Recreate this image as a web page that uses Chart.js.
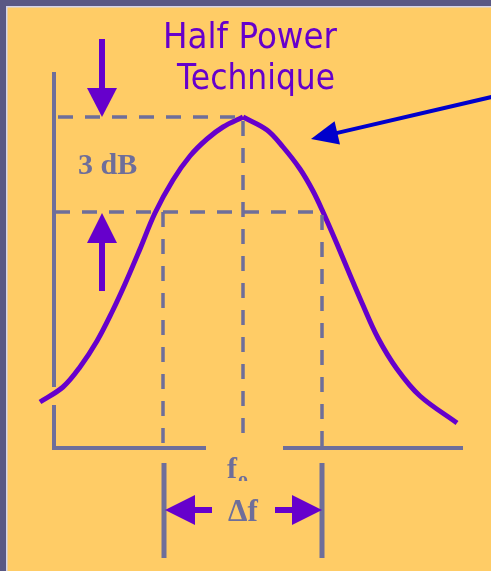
<!DOCTYPE html>
<html>
<head>
<meta charset="utf-8">
<script src="https://cdn.jsdelivr.net/npm/chart.js@4"></script>
<style>
  html, body { margin: 0; padding: 0; background: #ffcc66; }
  canvas { display: block; }
</style>
</head>
<body>
<canvas id="grafico" width="491" height="571"></canvas>
<script>
// Response curve: x = frequency, y = amplitude (arbitrary units)
const freq  = [-14, 9, 26, 43, 58, 71, 86, 101, 119, 136, 153, 169, 189, 213, 229, 246, 259, 269, 283, 296, 308, 324, 343, 366, 403];
const level = [46, 61, 81, 107, 136, 164, 199, 235, 268, 292, 309, 321, 331, 318, 301, 279, 257, 236, 204, 173, 145, 110, 79, 52, 25];

// Reference levels / frequencies
const peakLevel = 331;
const halfPowerLevel = 236;
const lowFreq = 109;
const centreFreq = 189;
const highFreq = 268;

// Axis extents (y axis is interrupted where the curve crosses, x axis where f0 sits)
const axisTop = 376;
const axisRight = 409;
const yAxisGap = [43, 61];
const xAxisGap = [152, 229];

// Labels
const titleLines = ['Half Power', 'Technique'];
const bandLabel = '3 dB';
const centreLabel = ['f', 'o'];
const widthLabel = 'Δf';

const purple = '#6600cc';
const slate = '#6e6e9a';
const blue = '#0000cc';
const orange = '#ffcc66';

const pts = (xs, ys) => xs.map((x, i) => ({ x, y: ys[i] }));

function guide(data, extra) {
  return Object.assign({
    data,
    showLine: true,
    pointRadius: 0,
    borderColor: slate,
    borderWidth: 4,
    borderJoinStyle: 'miter',
    fill: false,
    tension: 0
  }, extra || {});
}

const dash = { borderDash: [15, 12], borderWidth: 3.5 };

// the peak is a cusp, so each flank is its own smooth line
const curve = pts(freq, level);
const peakIdx = level.indexOf(Math.max(...level));
const flank = data => ({
  data,
  showLine: true,
  pointRadius: 0,
  borderColor: purple,
  borderWidth: 5,
  tension: 0.35,
  fill: false
});

const datasets = [
  // axes
  guide([{ x: 0, y: axisTop }, { x: 0, y: yAxisGap[1] }]),
  guide([{ x: 0, y: yAxisGap[0] }, { x: 0, y: 0 }, { x: xAxisGap[0], y: 0 }]),
  guide([{ x: xAxisGap[1], y: 0 }, { x: axisRight, y: 0 }]),
  // peak level + f0
  guide([{ x: 4, y: peakLevel }, { x: centreFreq, y: peakLevel }, { x: centreFreq, y: 10 }], dash),
  // half power level + band edges
  guide([{ x: 1, y: halfPowerLevel }, { x: highFreq, y: halfPowerLevel }, { x: highFreq, y: 0 }], dash),
  guide([{ x: lowFreq, y: halfPowerLevel }, { x: lowFreq, y: 0 }], dash),
  // band edge markers below the axis
  guide([{ x: lowFreq + 1, y: -15 }, { x: lowFreq + 1, y: -110 }], { borderWidth: 5 }),
  guide([{ x: highFreq, y: -15 }, { x: highFreq, y: -110 }], { borderWidth: 5 }),
  // the curve
  flank(curve.slice(0, peakIdx + 1)),
  flank(curve.slice(peakIdx))
];

const background = {
  id: 'background',
  beforeDraw(chart) {
    const ctx = chart.ctx;
    ctx.save();
    ctx.fillStyle = orange;
    ctx.fillRect(0, 0, chart.width, chart.height);
    ctx.fillStyle = '#5a5884';
    ctx.fillRect(0, 0, chart.width, 6);
    ctx.fillRect(0, 0, 6, chart.height);
    ctx.fillStyle = '#d4d4ea';
    ctx.fillRect(6, 6, chart.width, 1.5);
    ctx.fillRect(6, 6, 1.5, chart.height);
    ctx.restore();
  }
};

function drawArrow(ctx, tail, tip, headLen, headHalf, width, color) {
  const dx = tip.x - tail.x, dy = tip.y - tail.y;
  const len = Math.hypot(dx, dy);
  const ux = dx / len, uy = dy / len;
  const bx = tip.x - ux * headLen, by = tip.y - uy * headLen;
  ctx.strokeStyle = color;
  ctx.fillStyle = color;
  ctx.lineWidth = width;
  ctx.beginPath();
  ctx.moveTo(tail.x, tail.y);
  ctx.lineTo(bx + ux, by + uy);
  ctx.stroke();
  ctx.beginPath();
  ctx.moveTo(tip.x, tip.y);
  ctx.lineTo(bx - uy * headHalf, by + ux * headHalf);
  ctx.lineTo(bx + uy * headHalf, by - ux * headHalf);
  ctx.closePath();
  ctx.fill();
}

const annotations = {
  id: 'annotations',
  afterDatasetsDraw(chart) {
    const ctx = chart.ctx;
    const { x: sx, y: sy } = chart.scales;
    const p = (x, y) => ({ x: sx.getPixelForValue(x), y: sy.getPixelForValue(y) });
    ctx.save();

    // 3 dB arrows
    drawArrow(ctx, p(48, 409), p(48, peakLevel), 29, 15, 6, purple);
    drawArrow(ctx, p(48, 157), p(48, halfPowerLevel - 1), 30, 15, 6, purple);
    // bandwidth arrows
    drawArrow(ctx, p(158, -62), p(lowFreq + 2, -62), 30, 15, 6, purple);
    drawArrow(ctx, p(221, -62), p(highFreq, -62), 30, 15, 6, purple);
    // pointer to the curve
    drawArrow(ctx, p(442, 352), p(257, 309), 27, 12, 4, blue);

    // title
    ctx.fillStyle = purple;
    ctx.font = '36px "DejaVu Sans"';
    ctx.textAlign = 'center';
    ctx.textBaseline = 'alphabetic';
    const titlePos = [{ x: 196, y: 400, w: 174 }, { x: 202, y: 359, w: 158 }];
    titleLines.forEach((t, i) => {
      const pos = p(titlePos[i].x, titlePos[i].y);
      const k = titlePos[i].w / ctx.measureText(t).width;
      ctx.save();
      ctx.translate(pos.x, pos.y);
      ctx.scale(k, 1);
      ctx.fillText(t, 0, 0);
      ctx.restore();
    });

    // 3 dB label
    ctx.fillStyle = slate;
    ctx.textAlign = 'left';
    ctx.font = 'bold 30px "Liberation Serif"';
    const b = p(24, 274);
    ctx.fillText(bandLabel, b.x, b.y);

    // f0 label (subscript clipped like the original)
    const f = p(173, -30);
    ctx.fillText(centreLabel[0], f.x, f.y);
    ctx.save();
    const clip = p(0, -33);
    ctx.beginPath();
    ctx.rect(0, 0, chart.width, clip.y);
    ctx.clip();
    ctx.font = 'bold 20px "Liberation Serif"';
    const o = p(184, -38);
    ctx.fillText(centreLabel[1], o.x, o.y);
    ctx.restore();

    // delta f label
    ctx.textAlign = 'center';
    ctx.font = 'bold 31px "Liberation Serif"';
    const d = p(centreFreq, -73);
    ctx.fillText(widthLabel, d.x, d.y);

    ctx.restore();
  }
};

new Chart(document.getElementById('grafico').getContext('2d'), {
  type: 'scatter',
  data: { datasets },
  options: {
    responsive: false,
    animation: false,
    events: [],
    devicePixelRatio: 1,
    layout: { padding: 0 },
    plugins: {
      legend: { display: false },
      tooltip: { enabled: false },
      title: { display: false }
    },
    scales: {
      x: { type: 'linear', min: -54, max: 437, display: false },
      y: { type: 'linear', min: -123, max: 448, display: false }
    }
  },
  plugins: [background, annotations]
});
</script>
</body>
</html>
